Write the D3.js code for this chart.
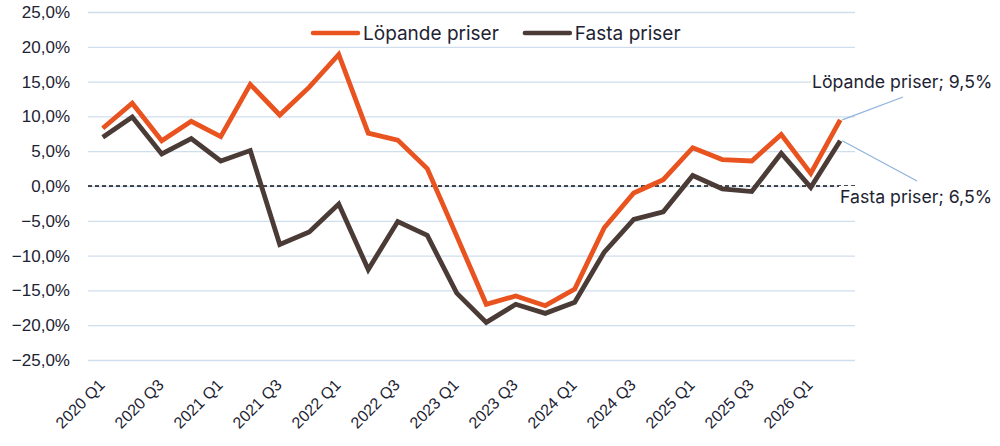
<!DOCTYPE html>
<html>
<head>
<meta charset="utf-8">
<script src="https://cdn.jsdelivr.net/npm/d3@7/dist/d3.min.js"></script>
<style>
  html, body { margin: 0; padding: 0; background: #fff; overflow: hidden; }
  svg { display: block; font-family: Inter, "Noto Sans", sans-serif; }
  .grid line { stroke: #cfdeec; stroke-width: 1.3; }
  .grid text { fill: #1d2333; font-size: 17px; }
  .x-axis text { fill: #1d2333; font-size: 16px; }
  .legend-label, .end-label { fill: #1d2333; }
</style>
</head>
<body>
<svg id="chart"></svg>
<script>
// ------------------------------------------------------------------
// Data
// ------------------------------------------------------------------
const quarters = [
    '2020 Q1', '2020 Q2', '2020 Q3', '2020 Q4',
    '2021 Q1', '2021 Q2', '2021 Q3', '2021 Q4',
    '2022 Q1', '2022 Q2', '2022 Q3', '2022 Q4',
    '2023 Q1', '2023 Q2', '2023 Q3', '2023 Q4',
    '2024 Q1', '2024 Q2', '2024 Q3', '2024 Q4',
    '2025 Q1', '2025 Q2', '2025 Q3', '2025 Q4',
    '2026 Q1', '2026 Q2'
];
const lopandePriser = [8.3, 11.9, 6.5, 9.3, 7.1, 14.6, 10.2, 14.2, 18.9, 7.6, 6.6, 2.5,
    -7.2, -17.0, -15.8, -17.2, -14.8, -6.0, -1.0, 0.9, 5.5, 3.8, 3.6, 7.4, 1.8, 9.5];
const fastaPriser = [7.0, 9.9, 4.6, 6.8, 3.6, 5.1, -8.4, -6.6, -2.6, -12.0, -5.1, -7.1,
    -15.4, -19.6, -17.0, -18.3, -16.7, -9.5, -4.8, -3.7, 1.5, -0.4, -0.8, 4.7, -0.2, 6.5];
const yTicks = [-25, -20, -15, -10, -5, 0, 5, 10, 15, 20, 25];
const xTickLabels = quarters.filter(q => q.endsWith('Q1') || q.endsWith('Q3'));

const series = [
    { name: 'Löpande priser', values: lopandePriser, color: '#e8531f' },
    { name: 'Fasta priser', values: fastaPriser, color: '#4b3b36' }
];

// ------------------------------------------------------------------
// Layout
// ------------------------------------------------------------------
const width = 1000, height = 446;
const margin = { top: 12, right: 145, bottom: 86, left: 88 };
const innerWidth = width - margin.left - margin.right;
const innerHeight = height - margin.top - margin.bottom;

const svg = d3.select('#chart')
    .attr('width', width)
    .attr('height', height);

const g = svg.append('g')
    .attr('transform', `translate(${margin.left},${margin.top})`);

// Scales
const xScale = d3.scaleBand()
    .domain(quarters)
    .range([0, innerWidth]);
const xPos = q => xScale(q) + xScale.bandwidth() / 2;

const yScale = d3.scaleLinear()
    .domain([-25, 25])
    .range([innerHeight, 0]);

const pct = d => d3.format('.1f')(d).replace('.', ',') + '%';

// Grid + y labels
const grid = g.append('g')
    .attr('class', 'grid')
    .call(d3.axisLeft(yScale)
        .tickValues(yTicks)
        .tickSize(-innerWidth)
        .tickPadding(18)
        .tickFormat(pct));
grid.select('.domain').remove();
grid.selectAll('.tick')
    .filter(d => d === 0)
    .select('line')
    .attr('stroke', 'none');

// Zero line
g.append('line')
    .attr('x1', 0)
    .attr('x2', innerWidth)
    .attr('y1', yScale(0))
    .attr('y2', yScale(0))
    .attr('stroke', '#111')
    .attr('stroke-width', 1.3)
    .attr('stroke-dasharray', '4,3');

// X axis
const xAxis = g.append('g')
    .attr('class', 'x-axis')
    .attr('transform', `translate(0,${innerHeight})`)
    .call(d3.axisBottom(xScale).tickValues(xTickLabels).tickSize(0));
xAxis.select('.domain').remove();
xAxis.selectAll('text')
    .attr('text-anchor', 'end')
    .attr('dy', null)
    .attr('y', 0)
    .attr('transform', 'translate(3,26) rotate(-45)');

// Lines
const line = d3.line()
    .x((d, i) => xPos(quarters[i]))
    .y(d => yScale(d));

series.forEach(s => {
    g.append('path')
        .datum(s.values)
        .attr('fill', 'none')
        .attr('stroke', s.color)
        .attr('stroke-width', 4.8)
        .attr('stroke-linejoin', 'miter')
        .attr('d', line);
});

// End labels with leader lines
const endLabels = [
    { s: series[0], lx: 903, ly: 97, tx: 812, ty: 88 },
    { s: series[1], lx: 917, ly: 181, tx: 840, ty: 203 }
];
endLabels.forEach(e => {
    const last = e.s.values.length - 1;
    const px = margin.left + xPos(quarters[last]);
    const py = margin.top + yScale(e.s.values[last]);
    const t = svg.append('text')
        .attr('class', 'end-label')
        .attr('x', e.tx)
        .attr('y', e.ty)
        .attr('font-size', 17.7)
        .text(`${e.s.name}; ${pct(e.s.values[last])}`);
    const bb = t.node().getBBox();
    svg.insert('rect', 'text.end-label')
        .attr('x', bb.x - 1)
        .attr('y', bb.y)
        .attr('width', bb.width + 2)
        .attr('height', bb.height)
        .attr('fill', '#fff');
    svg.append('line')
        .attr('x1', px + 2)
        .attr('y1', py)
        .attr('x2', e.lx)
        .attr('y2', e.ly)
        .attr('stroke', '#8fb3dc')
        .attr('stroke-width', 1.2);
});

// Legend
const legend = svg.append('g')
    .attr('transform', 'translate(313,33)');
let lx = 0;
series.forEach(s => {
    const item = legend.append('g').attr('transform', `translate(${lx},0)`);
    item.append('line')
        .attr('x1', 0)
        .attr('x2', 45)
        .attr('stroke', s.color)
        .attr('stroke-width', 4.5)
        .attr('stroke-linecap', 'round');
    const txt = item.append('text')
        .attr('class', 'legend-label')
        .attr('x', 50)
        .attr('dy', '0.35em')
        .attr('font-size', 19)
        .text(s.name);
    lx += 50 + txt.node().getComputedTextLength() + 26;
});
</script>
</body>
</html>
